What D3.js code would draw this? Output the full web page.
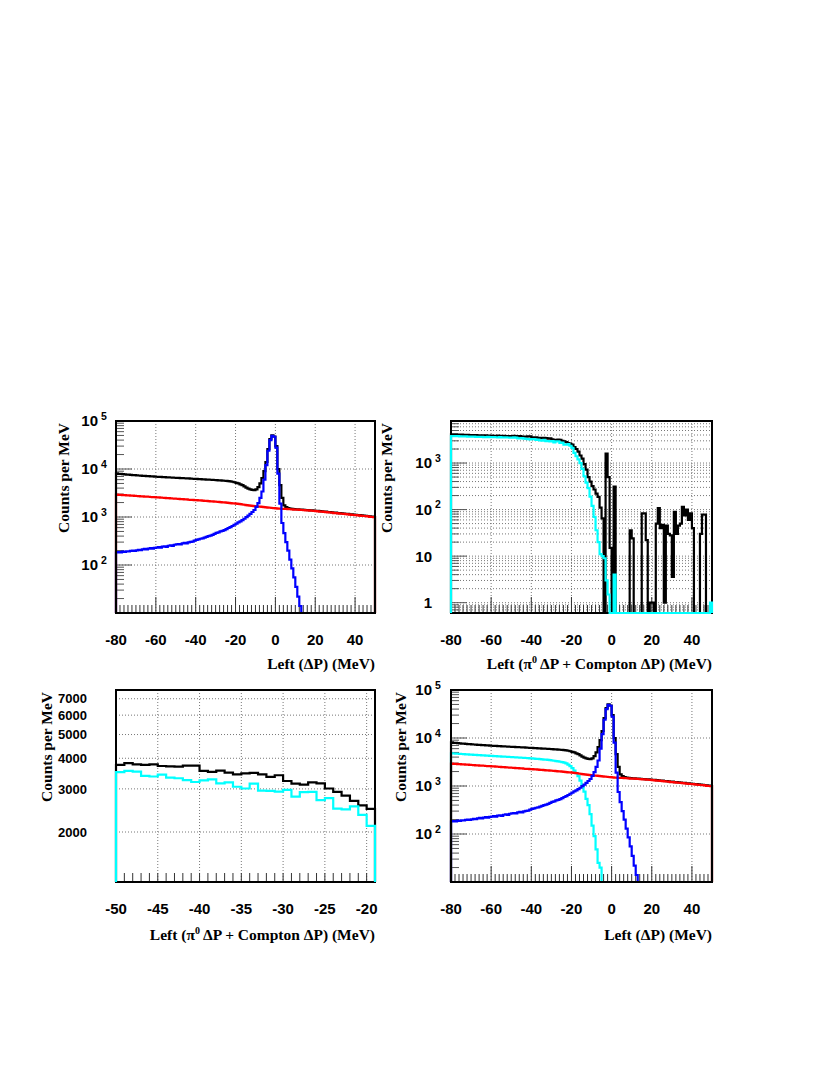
<!DOCTYPE html>
<html>
<head>
<meta charset="utf-8">
<script src="https://cdn.jsdelivr.net/npm/d3@7"></script>
<style>
  body { margin: 0; background: #fff; }
  svg text { font-family: "Liberation Sans", Arial, sans-serif; font-weight: bold; fill: #000; }
  svg text.title { font-family: "Liberation Serif", "Times New Roman", serif; font-size: 15.5px; }
</style>
</head>
<body>
<div id="chart"></div>
<script>
// 1 MeV bins, low edges -80 .. 49
var edges = d3.range(-80, 50);

// total, background, peak (top-left and bottom-right)
var black1 = [
  8100, 7950, 7880, 7800, 7720, 7650, 7600, 7520, 7470, 7420,
  7360, 7320, 7260, 7220, 7160, 7120, 7080, 7020, 6990, 6950,
  6900, 6860, 6830, 6790, 6760, 6720, 6690, 6650, 6610, 6580,
  6550, 6510, 6480, 6450, 6410, 6380, 6350, 6310, 6270, 6240,
  6200, 6170, 6140, 6100, 6070, 6030, 6000, 5970, 5930, 5900,
  5860, 5820, 5780, 5730, 5690, 5640, 5580, 5500, 5420, 5300,
  5150, 5000, 4800, 4600, 4350, 4100, 3900, 3750, 3660, 3630,
  3750, 4200, 5000, 6500, 9000, 14000, 26000, 42000, 50000, 47500,
  30000, 10000, 4600, 2500, 1750, 1600, 1530, 1490, 1470, 1460,
  1450, 1440, 1430, 1420, 1410, 1400, 1390, 1380, 1370, 1360,
  1350, 1340, 1320, 1310, 1300, 1290, 1270, 1260, 1250, 1240,
  1230, 1210, 1200, 1190, 1180, 1170, 1160, 1140, 1130, 1120,
  1110, 1100, 1090, 1080, 1070, 1060, 1050, 1030, 1020, 1010
];
var red1 = [
  2930, 2900, 2890, 2860, 2850, 2830, 2810, 2790, 2780, 2760,
  2740, 2730, 2700, 2690, 2670, 2650, 2640, 2610, 2600, 2590,
  2570, 2560, 2530, 2520, 2500, 2480, 2470, 2440, 2430, 2410,
  2400, 2390, 2360, 2350, 2330, 2320, 2290, 2280, 2270, 2250,
  2240, 2220, 2210, 2190, 2170, 2160, 2150, 2120, 2110, 2100,
  2080, 2060, 2050, 2020, 2010, 1990, 1970, 1950, 1930, 1920,
  1900, 1870, 1850, 1820, 1800, 1770, 1750, 1730, 1710, 1690,
  1670, 1650, 1640, 1620, 1600, 1590, 1570, 1560, 1540, 1530,
  1510, 1500, 1490, 1480, 1470, 1470, 1460, 1450, 1440, 1430,
  1420, 1420, 1410, 1400, 1390, 1380, 1370, 1360, 1350, 1340,
  1330, 1310, 1300, 1290, 1280, 1260, 1250, 1240, 1230, 1210,
  1200, 1190, 1180, 1170, 1160, 1150, 1130, 1120, 1110, 1100,
  1090, 1080, 1070, 1060, 1050, 1040, 1030, 1010, 1000, 990
];
var blue1 = [
  182, 186, 184, 190, 188, 193, 191, 196, 199, 197,
  202, 206, 204, 212, 216, 211, 220, 224, 219, 228,
  230, 236, 231, 242, 246, 238, 252, 257, 250, 264,
  268, 274, 269, 282, 288, 281, 295, 302, 307, 322,
  335, 341, 352, 360, 372, 385, 398, 410, 425, 445,
  465, 480, 500, 515, 535, 560, 590, 615, 650, 690,
  730, 770, 810, 860, 920, 990, 1070, 1160, 1270, 1400,
  1620, 1950, 2500, 3400, 6000, 12000, 24000, 40000, 49000, 47000,
  28000, 8000, 1900, 750, 460, 300, 200, 130, 85, 55,
  35, 22, 14, 8, 0, 0, 0, 0, 0, 0,
  0, 0, 0, 0, 0, 0, 0, 0, 0, 0,
  0, 0, 0, 0, 0, 0, 0, 0, 0, 0,
  0, 0, 0, 0, 0, 0, 0, 0, 0, 0
];
var cyan4 = [
  4800, 4760, 4730, 4700, 4660, 4640, 4600, 4580, 4550, 4520,
  4490, 4460, 4440, 4410, 4380, 4360, 4330, 4310, 4280, 4260,
  4240, 4210, 4190, 4160, 4140, 4110, 4090, 4070, 4040, 4020,
  4000, 3970, 3950, 3920, 3900, 3880, 3850, 3830, 3800, 3780,
  3750, 3720, 3690, 3660, 3630, 3600, 3560, 3530, 3490, 3450,
  3400, 3360, 3310, 3250, 3200, 3140, 3060, 2950, 2800, 2600,
  2350, 2100, 1850, 1600, 1300, 1050, 760, 540, 400, 260,
  150, 90, 48, 25, 20, 0, 0, 0, 0, 0,
  0, 0, 0, 0, 0, 0, 0, 0, 0, 0,
  0, 0, 0, 0, 0, 0, 0, 0, 0, 0,
  0, 0, 0, 0, 0, 0, 0, 0, 0, 0,
  0, 0, 0, 0, 0, 0, 0, 0, 0, 0,
  0, 0, 0, 0, 0, 0, 0, 0, 0, 0
];

// pi0 + compton (top-right, and zoomed in bottom-left)
var black2 = [
  4150, 4100, 4120, 4080, 4060, 4070, 4030, 4010, 4020, 3990,
  3980, 3960, 3970, 3940, 3930, 3920, 3910, 3930, 3890, 3880,
  3870, 3860, 3850, 3870, 3840, 3820, 3830, 3800, 3790, 3780,
  3756, 3820, 3780, 3756, 3780, 3720, 3710, 3700, 3730, 3730,
  3550, 3520, 3560, 3495, 3440, 3470, 3485, 3440, 3360, 3410,
  3230, 3150, 3120, 3190, 3160, 3010, 2915, 2817, 2680, 2570,
  2485, 2200, 2000, 1750, 1450, 1250, 950, 720, 500, 400,
  320, 270, 220, 188, 110, 65, 0, 1600, 500, 15,
  0, 310, 0, 0, 0, 0, 0, 0, 0, 36,
  24, 0, 0, 0, 0, 83, 83, 22, 0, 1,
  1, 0, 50, 107, 40, 47, 1, 45, 30, 28,
  3.6, 89, 30, 45, 50, 115, 75, 100, 60, 83,
  40, 0, 0, 0, 30, 78, 78, 0, 0, 0
];
var cyan2 = [
  3800, 3790, 3760, 3770, 3740, 3730, 3720, 3740, 3700, 3690,
  3680, 3690, 3660, 3650, 3640, 3660, 3620, 3610, 3630, 3600,
  3590, 3600, 3580, 3570, 3590, 3560, 3550, 3570, 3540, 3530,
  3510, 3550, 3525, 3390, 3370, 3430, 3335, 3315, 3260, 3200,
  3250, 3280, 3160, 3190, 3060, 3010, 3150, 2950, 2945, 2925,
  2970, 2790, 2910, 2915, 2700, 2750, 2490, 2475, 2545, 2350,
  2120, 1650, 1400, 1200, 1000, 750, 520, 380, 290, 190,
  120, 70, 36, 20, 11, 10, 9, 3, 1.5, 0,
  0, 4, 0, 0, 0, 0, 0, 0, 0, 0,
  0, 0, 0, 0, 0, 0, 0, 0, 0, 0,
  0, 0, 0, 0, 0, 0, 0, 0, 0, 0,
  0, 0, 0, 0, 0, 0, 0, 0, 0, 0,
  0, 0, 0, 0, 0, 0, 0, 0, 0, 1
];

var xTicksWide = [-80, -60, -40, -20, 0, 20, 40];
var xTicksZoom = [-50, -45, -40, -35, -30, -25, -20];
var yTicksTop = [100, 1000, 10000, 100000];
var yTicksPi = [1, 10, 100, 1000];
var yTicksZoom = [2000, 3000, 4000, 5000, 6000, 7000];

var svg = d3.select("#chart")
  .append("svg")
    .attr("width", 830)
    .attr("height", 1075);

function series(values, color) {
  return edges.map(function(e, i) { return {lo: e, v: values[i], color: color}; });
}

function panel(o) {
  var w = o.width, h = o.height;
  var g = svg.append("g")
    .attr("transform", "translate(" + o.left + "," + o.top + ")");

  var x = d3.scaleLinear().domain(o.xDomain).range([0, w]);
  var y = d3.scaleLog().domain(o.yDomain).range([h, 0]);
  var yc = function(v) { return v <= o.yDomain[0] ? h : Math.max(0, y(v)); };

  // dotted grid
  g.selectAll(".vgrid")
    .data(o.xTicks.filter(function(t) { return t > o.xDomain[0] && t < o.xDomain[1]; }))
    .enter().append("line")
      .attr("x1", x).attr("x2", x)
      .attr("y1", 0).attr("y2", h)
      .attr("stroke", "#777").attr("stroke-dasharray", "1,2");
  g.selectAll(".hgrid")
    .data(o.yGrid.filter(function(t) { return t > o.yDomain[0] && t < o.yDomain[1]; }))
    .enter().append("line")
      .attr("x1", 0).attr("x2", w)
      .attr("y1", y).attr("y2", y)
      .attr("stroke", "#777").attr("stroke-dasharray", "1,2");

  // x ticks, pointing up
  var minor = d3.range(o.xDomain[0], o.xDomain[1] + 1e-6, o.xStep);
  g.selectAll(".xt")
    .data(minor)
    .enter().append("line")
      .attr("x1", x).attr("x2", x)
      .attr("y1", h)
      .attr("y2", function(t) { return o.xTicks.indexOf(t) >= 0 ? h - o.xMajorLen : h - o.xMinorLen; })
      .attr("stroke", "#333");

  // log y ticks, pointing right
  if (o.yMinor) {
    var lo = Math.floor(Math.log10(o.yDomain[0])), hi = Math.ceil(Math.log10(o.yDomain[1]));
    var yt = [];
    d3.range(lo, hi + 1).forEach(function(k) {
      d3.range(1, 10).forEach(function(m) {
        var v = m * Math.pow(10, k);
        if (v >= o.yDomain[0] && v <= o.yDomain[1]) yt.push({v: v, major: m === 1});
      });
    });
    g.selectAll(".yt")
      .data(yt)
      .enter().append("line")
        .attr("x1", 0)
        .attr("x2", function(d) { return d.major ? 16 : 8; })
        .attr("y1", function(d) { return y(d.v); })
        .attr("y2", function(d) { return y(d.v); })
        .attr("stroke", "#555");
  }

  var frame = function() {
    g.append("rect")
      .attr("width", w).attr("height", h)
      .attr("fill", "none").attr("stroke", "#000").attr("stroke-width", 2);
  };
  if (!o.frameOnTop) frame();

  // histograms as step outlines from the bottom
  o.hists.forEach(function(s) {
    var pts = s.filter(function(d) { return d.lo >= o.xDomain[0] && d.lo < o.xDomain[1] - 0.5; });
    var last = pts[pts.length - 1];
    var xEnd = x(Math.min(last.lo + 1, o.xDomain[1]));
    var p = [[x(pts[0].lo), h]];
    pts.forEach(function(d) { p.push([x(d.lo), yc(d.v)]); });
    p.push([xEnd, yc(last.v)]);
    p.push([xEnd, h]);
    g.append("path")
      .attr("d", d3.line().curve(d3.curveStepAfter)(p))
      .attr("fill", "none")
      .attr("stroke", pts[0].color)
      .attr("stroke-width", 2.2);
  });

  if (o.frameOnTop) frame();

  // x labels
  g.selectAll(".xl")
    .data(o.xTicks)
    .enter().append("text")
      .attr("x", x)
      .attr("y", h + 32)
      .attr("text-anchor", "middle")
      .style("font-size", "15px")
      .text(function(t) { return t; });

  // y labels
  o.yTicks.forEach(function(v) {
    var e = Math.round(Math.log10(v));
    var sup = o.powers && e >= 2;
    g.append("text")
      .attr("x", -o.labelGap)
      .attr("y", y(v) + o.labelSize * 0.36)
      .attr("text-anchor", "end")
      .style("font-size", o.labelSize + "px")
      .text(sup ? "10" : String(v));
    if (sup) {
      g.append("text")
        .attr("x", -o.labelGap + 3)
        .attr("y", y(v) - 1.5)
        .style("font-size", "10.5px")
        .text(e);
    }
  });

  // axis titles
  g.append("text")
    .attr("class", "title")
    .attr("transform", "translate(" + o.yTitleX + "," + 2 + ") rotate(-90)")
    .attr("text-anchor", "end")
    .text("Counts per MeV");

  var xt = g.append("text")
    .attr("class", "title")
    .attr("x", w)
    .attr("y", h + o.xTitleDy)
    .attr("text-anchor", "end");
  if (o.pi) {
    xt.append("tspan").text("Left (\u03c0");
    xt.append("tspan").attr("dy", -6).style("font-size", "10px").text("0");
    xt.append("tspan").attr("dy", 6).text(" \u0394P + Compton \u0394P) (MeV)");
  } else {
    xt.text("Left (\u0394P) (MeV)");
  }
}

var allDecades = [];
d3.range(-1, 4).forEach(function(k) {
  d3.range(1, 10).forEach(function(m) { allDecades.push(m * Math.pow(10, k)); });
});

// top-left
panel({
  left: 116, top: 421, width: 259, height: 192,
  xDomain: [-80, 50], yDomain: [10, 100000],
  xTicks: xTicksWide, xStep: 2, xMinorLen: 8, xMajorLen: 16,
  yTicks: yTicksTop, yGrid: yTicksTop, yMinor: true, powers: true, labelGap: 18, labelSize: 15,
  yTitleX: -47, xTitleDy: 56, pi: false, frameOnTop: true,
  hists: [series(black1, "#000"), series(red1, "#ff0000"), series(blue1, "#0000ff")]
});

// top-right
panel({
  left: 451, top: 421, width: 261, height: 192,
  xDomain: [-80, 50], yDomain: [0.6, 8000],
  xTicks: xTicksWide, xStep: 2, xMinorLen: 8, xMajorLen: 16,
  yTicks: yTicksPi, yGrid: allDecades, yMinor: true, powers: true, labelGap: 19, labelSize: 15,
  yTitleX: -59, xTitleDy: 56, pi: true, frameOnTop: false,
  hists: [series(black2, "#000"), series(cyan2, "#00ffff")]
});

// bottom-left, zoom of the top-right
panel({
  left: 116, top: 690, width: 259, height: 192,
  xDomain: [-50, -19], yDomain: [1250, 7600],
  xTicks: xTicksZoom, xStep: 1, xMinorLen: 9, xMajorLen: 9,
  yTicks: yTicksZoom, yGrid: yTicksZoom, yMinor: false, powers: false, labelGap: 29, labelSize: 13,
  yTitleX: -64, xTitleDy: 58, pi: true, frameOnTop: false,
  hists: [series(black2, "#000"), series(cyan2, "#00ffff")]
});

// bottom-right
panel({
  left: 451, top: 690, width: 261, height: 192,
  xDomain: [-80, 50], yDomain: [10, 100000],
  xTicks: xTicksWide, xStep: 2, xMinorLen: 8, xMajorLen: 16,
  yTicks: yTicksTop, yGrid: yTicksTop, yMinor: true, powers: true, labelGap: 19, labelSize: 15,
  yTitleX: -45, xTitleDy: 58, pi: false, frameOnTop: true,
  hists: [series(cyan4, "#00ffff"), series(black1, "#000"), series(red1, "#ff0000"), series(blue1, "#0000ff")]
});
</script>
</body>
</html>
